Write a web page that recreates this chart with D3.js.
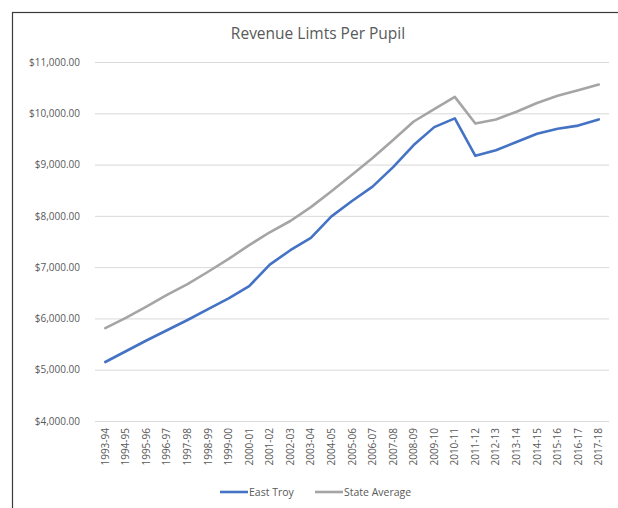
<!DOCTYPE html>
<html>
<head>
<meta charset="utf-8">
<script src="https://cdn.jsdelivr.net/npm/d3@7"></script>
<style>
  body { margin: 0; background: #fff; overflow: hidden; }
  text { font-family: "Open Sans", "Liberation Sans", sans-serif; }
</style>
</head>
<body>
<div id="chart"></div>
<script>
// chart data
var years = ["1993-94","1994-95","1995-96","1996-97","1997-98","1998-99","1999-00","2000-01",
  "2001-02","2002-03","2003-04","2004-05","2005-06","2006-07","2007-08","2008-09","2009-10",
  "2010-11","2011-12","2012-13","2013-14","2014-15","2015-16","2016-17","2017-18"];
var eastTroy = [5150, 5360, 5570, 5770, 5970, 6180, 6390, 6630, 7050, 7330, 7570, 7990, 8290,
  8570, 8950, 9380, 9730, 9900, 9170, 9280, 9440, 9600, 9700, 9760, 9880];
var stateAvg = [5810, 6010, 6230, 6460, 6670, 6910, 7160, 7430, 7680, 7900, 8170, 8480, 8800,
  9130, 9480, 9840, 10080, 10320, 9800, 9880, 10030, 10200, 10340, 10450, 10560];
var yTicks = [4000, 5000, 6000, 7000, 8000, 9000, 10000, 11000];
var seriesNames = ["East Troy", "State Average"];
var colors = ["#4472C4", "#A5A5A5"];

var svgWidth = 618;
var svgHeight = 508;
var margin = { top: 62, right: 9, bottom: 87, left: 95 };
var chartWidth = svgWidth - margin.left - margin.right;
var chartHeight = svgHeight - margin.top - margin.bottom;

var svg = d3.select("#chart").append("svg")
  .attr("width", svgWidth)
  .attr("height", svgHeight)
  .style("display", "block");

// outer frame (cropped)
svg.append("rect")
  .attr("x", 12.5).attr("y", 12.5)
  .attr("width", 700).attr("height", 700)
  .attr("fill", "none")
  .attr("stroke", "#3a3a3a")
  .attr("stroke-width", 1.2);

svg.append("text")
  .attr("x", 318).attr("y", 39)
  .attr("text-anchor", "middle")
  .attr("font-size", 15.5)
  .attr("fill", "#595959")
  .text("Revenue Limts Per Pupil");

var chartGroup = svg.append("g")
  .attr("transform", `translate(${margin.left}, ${margin.top})`);

var xScale = d3.scaleBand()
  .domain(years)
  .range([0, chartWidth]);

var yScale = d3.scaleLinear()
  .domain([4000, 11000])
  .range([chartHeight, 0]);

// gridlines
chartGroup.append("g")
  .call(d3.axisLeft(yScale).tickValues(yTicks).tickSize(-chartWidth).tickFormat(""))
  .call(g => g.select(".domain").remove())
  .call(g => g.selectAll("line").attr("stroke", "#d9d9d9").attr("stroke-width", 1));

// y labels
var fmt = d3.format("$,.2f");
chartGroup.append("g")
  .call(d3.axisLeft(yScale).tickValues(yTicks).tickSize(0).tickPadding(15).tickFormat(d => fmt(d)))
  .call(g => g.select(".domain").remove())
  .call(g => g.selectAll("text")
    .attr("font-size", 10)
    .attr("fill", "#595959")
    .style("font-family", "'Open Sans', sans-serif"));

// x labels
var xAxis = chartGroup.append("g")
  .attr("transform", `translate(0, ${chartHeight})`)
  .call(d3.axisBottom(xScale).tickSize(0))
  .call(g => g.select(".domain").remove());
xAxis.selectAll("text")
  .attr("transform", "rotate(-90)")
  .attr("x", -7)
  .attr("y", 0)
  .attr("dy", "0.35em")
  .attr("text-anchor", "end")
  .attr("font-size", 10)
  .attr("fill", "#595959")
  .style("font-family", "'Open Sans', sans-serif");

var line = d3.line()
  .x((d, i) => xScale(years[i]) + xScale.bandwidth() / 2)
  .y(d => yScale(d));

[eastTroy, stateAvg].forEach(function(series, k) {
  chartGroup.append("path")
    .datum(series)
    .attr("d", line)
    .attr("fill", "none")
    .attr("stroke", colors[k])
    .attr("stroke-width", 2.6)
    .attr("stroke-linejoin", "round")
    .attr("stroke-linecap", "round");
});

// legend
var legendX = [220, 315];
seriesNames.forEach(function(name, k) {
  var g = svg.append("g").attr("transform", `translate(${legendX[k]}, 492)`);
  g.append("line")
    .attr("x1", 0).attr("x2", 28)
    .attr("stroke", colors[k])
    .attr("stroke-width", 2.6);
  g.append("text")
    .attr("x", 29)
    .attr("dy", "0.35em")
    .attr("font-size", 10.5)
    .attr("fill", "#595959")
    .text(name);
});
</script>
</body>
</html>
